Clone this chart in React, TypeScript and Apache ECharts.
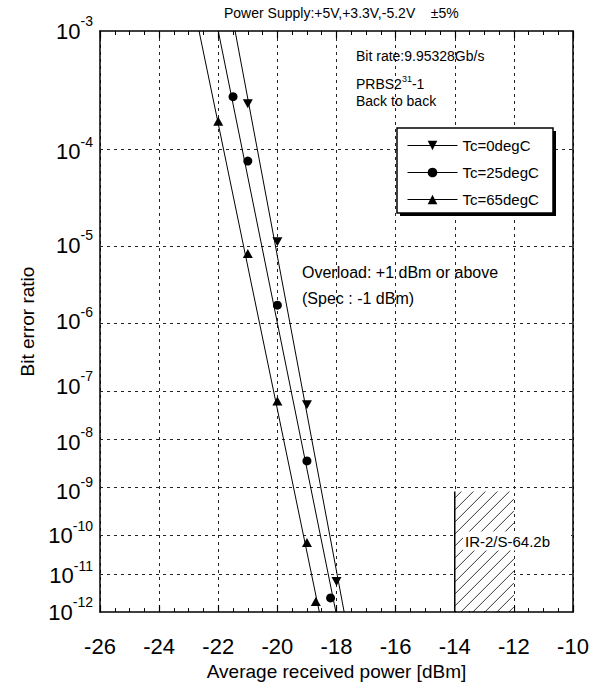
import React, { useEffect, useRef } from 'react';
import * as echarts from 'echarts';

const FONT = '"Liberation Sans", Arial, Helvetica, sans-serif';

// ---- data ----
const seriesNames = ['Tc=0degC', 'Tc=25degC', 'Tc=65degC'];

const tc0Power = [-21.0, -20.0, -19.0, -18.0];
const tc0Ber = [2.7e-4, 1.1e-5, 4.8e-8, 7e-12];

const tc25Power = [-21.5, -21.0, -20.0, -19.0, -18.2];
const tc25Ber = [3.1e-4, 8.1e-5, 1.7e-6, 4.3e-9, 2.5e-12];

const tc65Power = [-22.0, -21.0, -20.0, -19.0, -18.7];
const tc65Ber = [1.9e-4, 7.9e-6, 5.6e-8, 6.9e-11, 2.0e-12];

// fitted straight lines: received power where each line meets BER 1e-3 and 1e-12
const fitBer = [1e-3, 1e-12];
const tc0FitPower = [-21.43, -17.74];
const tc25FitPower = [-22.0, -18.02];
const tc65FitPower = [-22.65, -18.58];

// IR-2/S-64.2b spec region
const specPower = [-14, -12];
const specBer = [1e-9, 1e-12];

// axis
const powerMin = -26;
const powerMax = -10;
const powerStep = 2;
const berExponents = [3, 4, 5, 6, 7, 8, 9, 10, 11, 12];

// BER paper scale: log10(-log10(BER))
const yv = (ber: number) => Math.log10(-Math.log10(ber));

export default function App() {
  const ref = useRef<HTMLDivElement>(null);

  useEffect(() => {
    if (!ref.current) return;
    const chart = echarts.init(ref.current, undefined, { renderer: 'svg' });

    const tickVals = berExponents.map((n) => yv(Math.pow(10, -n)));
    const gridVals = berExponents.slice(1, -1).map((n) => yv(Math.pow(10, -n)));

    const markerSeries = (
      name: string,
      P: number[],
      B: number[],
      symbol: string,
      size: any,
      fitP: number[]
    ) => ({
      name,
      type: 'line',
      data: P.map((p, i) => [p, yv(B[i])]),
      symbol,
      symbolSize: size,
      showSymbol: true,
      itemStyle: { color: '#000' },
      lineStyle: { width: 0, opacity: 0 },
      z: 6,
      silent: true,
      markLine: {
        silent: true,
        symbol: ['none', 'none'],
        label: { show: false },
        z: 5,
        lineStyle: { color: '#000', width: 1, type: 'solid' },
        data: [
          [
            { coord: [fitP[0], yv(fitBer[0])] },
            { coord: [fitP[1], yv(fitBer[1])] },
          ],
        ],
      },
    });

    const xCommon = {
      type: 'value',
      min: powerMin,
      max: powerMax,
      interval: powerStep,
      axisLine: { onZero: false, lineStyle: { color: '#000', width: 1.5 } },
      axisTick: { inside: true, length: 7, lineStyle: { color: '#000', width: 1.2 } },
      minorTick: { show: true, splitNumber: 4, length: 4, lineStyle: { color: '#000', width: 1 } },
    };

    chart.setOption({
      animation: false,
      textStyle: { fontFamily: FONT },
      title: {
        text: 'Power Supply:+5V,+3.3V,-5.2V    \u00B15%',
        left: 224,
        top: 6,
        padding: 0,
        textStyle: { fontSize: 14, fontWeight: 'normal', color: '#000', fontFamily: FONT },
      },
      grid: { left: 100, top: 31, width: 473, height: 585, containLabel: false },
      legend: {
        data: seriesNames,
        orient: 'vertical',
        left: 407,
        top: 138,
        padding: 0,
        itemWidth: 50,
        itemHeight: 12,
        itemGap: 12,
        selectedMode: false,
        z: 20,
        textStyle: { fontSize: 15, color: '#000', fontFamily: FONT, lineHeight: 14 },
        lineStyle: { color: '#000', width: 1, opacity: 1, type: 'solid' },
        itemStyle: { color: '#000' },
      },
      xAxis: [
        {
          ...xCommon,
          position: 'bottom',
          axisLabel: { fontSize: 22, color: '#000', margin: 23, fontFamily: FONT },
          splitLine: { show: true, lineStyle: { color: '#222', type: [3, 4], width: 1 } },
          name: 'Average received power [dBm]',
          nameLocation: 'middle',
          nameGap: 49,
          nameTextStyle: { fontSize: 19, color: '#000', fontFamily: FONT },
        },
        {
          ...xCommon,
          position: 'top',
          axisLabel: { show: false },
          splitLine: { show: false },
        },
      ],
      yAxis: [
        {
          type: 'value',
          min: yv(1e-3),
          max: yv(1e-12),
          inverse: true,
          position: 'left',
          axisLine: { onZero: false, lineStyle: { color: '#000', width: 1.5 } },
          axisTick: { show: false, customValues: tickVals },
          splitLine: { show: false },
          axisLabel: {
            customValues: tickVals,
            margin: 7,
            color: '#000',
            formatter: (v: number) => '{b|10}{s|-' + Math.round(Math.pow(10, v)) + '}',
            rich: {
              b: { fontSize: 22, lineHeight: 34, color: '#000', fontFamily: FONT },
              s: { fontSize: 14, lineHeight: 14, verticalAlign: 'top', color: '#000', fontFamily: FONT },
            },
          },
          name: 'Bit error ratio',
          nameLocation: 'middle',
          nameGap: 50,
          nameTextStyle: { fontSize: 19, color: '#000', fontFamily: FONT },
        },
        {
          type: 'value',
          min: yv(1e-3),
          max: yv(1e-12),
          inverse: true,
          position: 'right',
          axisLine: { onZero: false, lineStyle: { color: '#000', width: 1.5 } },
          axisTick: { show: false },
          axisLabel: { show: false },
          splitLine: { show: false },
        },
      ],
      series: [
        {
          name: 'grid',
          type: 'line',
          data: [],
          silent: true,
          z: 1,
          markLine: {
            silent: true,
            z: 1,
            symbol: ['none', 'none'],
            label: { show: false },
            lineStyle: { color: '#222', type: [3, 4], width: 1 },
            data: gridVals.map((v) => ({ yAxis: v })),
          },
        },
        {
          name: 'spec',
          type: 'custom',
          z: 3,
          silent: true,
          data: [[specPower[0], yv(specBer[0]), specPower[1], yv(specBer[1])]],
          renderItem: (params: any, api: any) => {
            const tl = api.coord([api.value(0), api.value(1)]);
            const br = api.coord([api.value(2), api.value(3)]);
            const x0 = tl[0], y0 = tl[1], x1 = br[0], y1 = br[1];
            const w = x1 - x0, h = y1 - y0;
            const children: any[] = [
              { type: 'rect', shape: { x: x0, y: y0, width: w, height: h - 1 }, style: { fill: '#fff' } },
            ];
            const s = 12;
            for (let d = 6 - s * Math.ceil(h / s); d < w; d += s) {
              const t0 = Math.max(0, -d);
              const t1 = Math.min(h, w - d);
              if (t1 <= t0) continue;
              children.push({
                type: 'line',
                shape: { x1: x0 + d + t0, y1: y1 - t0, x2: x0 + d + t1, y2: y1 - t1 },
                style: { stroke: '#000', lineWidth: 0.8 },
              });
            }
            children.push({
              type: 'line',
              shape: { x1: x0, y1: y0, x2: x0, y2: y1 },
              style: { stroke: '#000', lineWidth: 1.5 },
            });
            return { type: 'group', children };
          },
        },
        markerSeries(seriesNames[0], tc0Power, tc0Ber, 'path://M0,0L10,0L5,9Z', [10, 9], tc0FitPower),
        markerSeries(seriesNames[1], tc25Power, tc25Ber, 'circle', 9, tc25FitPower),
        markerSeries(seriesNames[2], tc65Power, tc65Ber, 'triangle', [10, 9], tc65FitPower),
      ],
      graphic: [
        {
          type: 'rect',
          z: 15,
          shape: { x: 400, y: 131, width: 156, height: 85 },
          style: { fill: '#000' },
        },
        {
          type: 'rect',
          z: 16,
          shape: { x: 397, y: 128, width: 156, height: 85 },
          style: { fill: '#fff', stroke: '#000', lineWidth: 1.5 },
        },
        {
          type: 'text',
          z: 30,
          x: 356,
          y: 56,
          style: { text: 'Bit rate:9.95328Gb/s', fill: '#000', font: '14px ' + FONT, verticalAlign: 'middle' },
        },
        {
          type: 'text',
          z: 30,
          x: 356,
          y: 84,
          style: {
            text: '{a|PRBS2}{b|31}{a|-1}',
            verticalAlign: 'middle',
            rich: {
              a: { fontSize: 14, lineHeight: 20, fill: '#000', fontFamily: FONT },
              b: { fontSize: 9, lineHeight: 9, verticalAlign: 'top', fill: '#000', fontFamily: FONT },
            },
          },
        },
        {
          type: 'text',
          z: 30,
          x: 356,
          y: 101,
          style: { text: 'Back to back', fill: '#000', font: '14px ' + FONT, verticalAlign: 'middle' },
        },
        {
          type: 'text',
          z: 30,
          x: 302,
          y: 272,
          style: { text: 'Overload: +1 dBm or above', fill: '#000', font: '16px ' + FONT, verticalAlign: 'middle' },
        },
        {
          type: 'text',
          z: 30,
          x: 302,
          y: 298,
          style: { text: '(Spec : -1 dBm)', fill: '#000', font: '16px ' + FONT, verticalAlign: 'middle' },
        },
        {
          type: 'text',
          z: 100,
          x: 463,
          y: 541,
          style: {
            text: 'IR-2/S-64.2b',
            fill: '#000',
            font: '15px ' + FONT,
            verticalAlign: 'middle',
            backgroundColor: '#fff',
            padding: [2, 21, 2, 2],
          },
        },
      ],
    });

    return () => chart.dispose();
  }, []);

  return (
    <div
      ref={ref}
      style={{ position: 'absolute', left: 0, top: 0, width: 604, height: 686 }}
    />
  );
}
